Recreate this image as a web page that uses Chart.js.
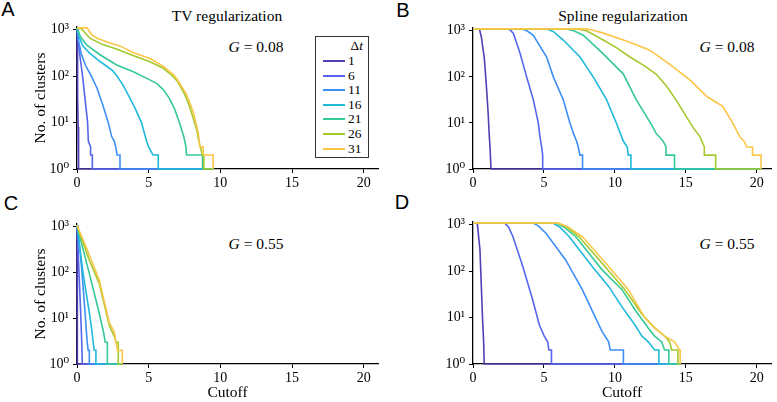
<!DOCTYPE html>
<html>
<head>
<meta charset="utf-8">
<script src="https://cdn.jsdelivr.net/npm/chart.js@4.4.1/dist/chart.umd.min.js"></script>
<style>
  body { margin: 0; background: #fff; width: 777px; height: 402px; position: relative; overflow: hidden;
         font-family: "Liberation Serif", "DejaVu Serif", serif; color: #000; }
  .panel { position: absolute; }
  .txt { position: absolute; transform: translate(-50%, -50%); white-space: nowrap; }
  .letter { position: absolute; transform: translate(-50%, -50%); font-family: "Liberation Sans", Arial, sans-serif; font-size: 20px; }
  .ttl { font-size: 15.5px; }
  .glab { font-size: 15.5px; }
  #legend { position: absolute; left: 315px; top: 36px; width: 52px; height: 120px; border: 1.6px solid #333; background: #fff; }
  #legend .row { position: absolute; left: 0; width: 52px; height: 14px; font-size: 13.5px; }
  #legend .sw { position: absolute; left: 7px; top: 6px; width: 22px; height: 2px; }
  #legend .lb { position: absolute; left: 32px; top: -1px; line-height: 15px; }
</style>
</head>
<body>

<div class="letter" style="left:8px;top:9px">A</div>
<div class="letter" style="left:403px;top:10px">B</div>
<div class="letter" style="left:11px;top:203px">C</div>
<div class="letter" style="left:402px;top:202px">D</div>

<div class="txt ttl" style="left:227px;top:16px">TV regularization</div>
<div class="txt ttl" style="left:623px;top:16px">Spline regularization</div>

<div class="txt glab" style="left:256px;top:47px"><i>G</i> = 0.08</div>
<div class="txt glab" style="left:727px;top:47px"><i>G</i> = 0.08</div>
<div class="txt glab" style="left:256px;top:244px"><i>G</i> = 0.55</div>
<div class="txt glab" style="left:727px;top:244px"><i>G</i> = 0.55</div>

<div class="panel" style="left:0;top:0"><canvas id="chartA" width="390" height="200"></canvas></div>
<div class="panel" style="left:390px;top:0"><canvas id="chartB" width="387" height="200"></canvas></div>
<div class="panel" style="left:0;top:200px"><canvas id="chartC" width="390" height="202"></canvas></div>
<div class="panel" style="left:390px;top:200px"><canvas id="chartD" width="387" height="202"></canvas></div>

<div id="legend"></div>

<script>
// Δt values (legend) and colors
const dtLabels = ['1', '6', '11', '16', '21', '26', '31'];
const seriesColors = ['#5240b5', '#5566ec', '#3d8ff5', '#1fbadb', '#35c996', '#a3c92c', '#fbc648'];

const xTicks = [0, 5, 10, 15, 20];
const yTicks = [1, 10, 100, 1000];
const yTickLabels = ['10\u2070', '10\u00b9', '10\u00b2', '10\u00b3'];

// A: TV regularization, G = 0.08  -> [cutoff, no. of clusters]
const tvLow1  = [[0,1100],[0.02,700],[0.04,200],[0.06,40],[0.08,8],[0.1,2],[0.12,1],[9.5,1]];
const tvLow6  = [[0,1100],[0.08,600],[0.2,280],[0.39,100],[0.55,35],[0.74,10],[0.79,4],[0.95,3],[0.95,2],[1.07,2],[1.07,1],[9.5,1]];
const tvLow11 = [[0,1100],[0.1,600],[0.3,300],[0.6,170],[1.0,100],[1.4,55],[1.8,24],[2.18,10],[2.42,5],[2.6,4],[2.7,3],[2.8,2],[3.0,2],[3.0,1],[9.5,1]];
const tvLow16 = [[0,1100],[0.15,700],[0.4,450],[0.9,310],[1.5,220],[2.0,170],[2.5,130],[2.8,100],[3.2,65],[3.6,38],[4.0,22],[4.5,10],[4.85,4],[5.0,3],[5.3,2],[5.67,2],[5.67,1],[9.5,1]];
const tvLow21 = [[0,1100],[0.25,700],[0.67,475],[1.6,290],[2.77,175],[3.93,125],[4.62,98],[5.55,70],[6.0,52],[6.4,35],[6.8,20],[7.1,11],[7.3,7],[7.45,5],[7.6,3],[7.64,2],[8.76,2],[8.76,1],[9.5,1]];
const tvLow26 = [[0,1100],[0.3,1050],[0.9,660],[1.8,480],[2.8,380],[3.9,280],[5.0,210],[6.0,150],[6.6,105],[7.0,78],[7.44,45],[7.8,25],[8.13,12],[8.35,7],[8.5,4],[8.6,3],[8.75,2],[8.85,2],[8.85,1],[9.5,1]];
const tvLow31 = [[0,1100],[0.7,1100],[1.0,800],[1.4,660],[2.3,520],[3.0,450],[3.93,320],[5.09,240],[6.0,165],[6.7,110],[7.0,85],[7.64,40],[8.11,17],[8.46,6],[8.57,3],[8.8,3],[8.8,2],[9.5,2],[9.5,1]];

// B: Spline regularization, G = 0.08
const spLow1  = [[0,1100],[0.45,1100],[0.6,700],[0.8,250],[0.95,60],[1.08,14],[1.15,5],[1.2,3],[1.27,1],[20.3,1]];
const spLow6  = [[0,1100],[2.37,1100],[2.6,1050],[2.84,890],[3.31,330],[3.78,100],[4.25,32],[4.6,10],[4.72,5],[4.84,3],[4.91,2],[4.91,1],[20.3,1]];
const spLow11 = [[0,1100],[3.43,1100],[3.8,1000],[4.25,800],[5.19,270],[5.66,100],[6.36,32],[6.83,10],[7.07,6],[7.3,4],[7.42,3],[7.53,2],[7.72,2],[7.72,1],[20.3,1]];
const spLow16 = [[0,1100],[5.19,1100],[5.7,950],[6.36,630],[7.54,270],[8.47,100],[9.41,32],[10.1,10],[10.6,4],[10.87,3],[10.94,2],[11.13,2],[11.13,1],[20.3,1]];
const spLow21 = [[0,1100],[6.6,1100],[7.1,1000],[7.77,800],[9.18,316],[10.6,115],[11.5,32],[12.5,10],[12.9,6],[13.4,4],[13.6,3],[13.6,2],[14.2,2],[14.2,1],[20.3,1]];
const spLow26 = [[0,1100],[7.3,1100],[8.0,1000],[9.18,630],[10.1,430],[11.06,270],[12.0,180],[12.9,115],[13.6,65],[14.3,32],[15.5,8],[16.0,5],[16.3,3],[16.3,2],[17.1,2],[17.1,1],[20.3,1]];
const spLow31 = [[0,1100],[8.0,1100],[8.6,1000],[9.18,890],[10.6,630],[11.5,500],[12.46,380],[13.3,250],[14.1,165],[15.3,85],[16.5,37],[17.6,23],[18.3,10],[18.8,5],[19.1,4],[19.3,3],[19.7,3],[19.7,2],[20.3,2],[20.3,1]];

// C: TV regularization, G = 0.55
const tvHigh1  = [[0,1100],[0.01,400],[0.02,60],[0.03,8],[0.04,1],[3.16,1]];
const tvHigh6  = [[0,1100],[0.06,400],[0.13,120],[0.2,35],[0.27,10],[0.33,3],[0.37,1],[3.16,1]];
const tvHigh11 = [[0,1100],[0.09,700],[0.32,130],[0.55,15],[0.71,3],[0.78,2],[0.86,2],[0.86,1],[3.16,1]];
const tvHigh16 = [[0,1100],[0.1,600],[0.43,95],[0.9,11],[1.05,5],[1.13,3],[1.2,2],[1.32,2],[1.32,1],[3.16,1]];
const tvHigh21 = [[0,1100],[0.2,600],[0.8,113],[1.5,15],[1.85,5],[1.97,3],[2.12,3],[2.12,1],[3.16,1]];
const tvHigh26 = [[0,1100],[0.2,700],[0.86,186],[1.55,58],[2.25,7],[2.6,4],[2.72,3],[2.88,3],[2.88,1],[3.16,1]];
const tvHigh31 = [[0,1100],[0.1,900],[0.63,365],[1.55,69],[2.25,8],[2.6,5],[2.72,3],[2.83,2],[3.16,2],[3.16,1]];

// D: Spline regularization, G = 0.55
const spHigh1  = [[0,1100],[0.3,1100],[0.49,290],[0.67,10],[0.75,3],[0.79,1],[14.6,1]];
const spHigh6  = [[0,1100],[2.23,1100],[2.5,900],[2.81,560],[3.51,126],[4.21,24],[4.67,7],[5.02,4],[5.26,3],[5.35,2],[5.53,2],[5.53,1],[14.6,1]];
const spHigh11 = [[0,1100],[4.21,1100],[4.6,950],[5.14,660],[6.53,175],[7.7,40],[8.63,10],[9.1,5],[9.56,3],[9.67,2],[10.6,2],[10.6,1],[14.6,1]];
const spHigh16 = [[0,1100],[5.6,1100],[6.1,900],[6.77,560],[8.4,126],[9.56,47],[10.5,17],[11.4,7],[11.9,4],[12.35,3],[12.8,2],[13.1,2],[13.1,1],[14.6,1]];
const spHigh21 = [[0,1100],[5.83,1100],[6.4,900],[7.23,560],[9.1,107],[10.5,40],[11.4,15],[12.35,6],[12.8,4],[13.3,3],[13.5,2],[13.8,2],[13.8,1],[14.6,1]];
const spHigh26 = [[0,1100],[5.95,1100],[6.6,900],[7.46,560],[9.3,126],[10.7,40],[11.9,12],[12.8,6],[13.5,4],[13.86,3],[14.0,2],[14.44,2],[14.44,1],[14.6,1]];
const spHigh31 = [[0,1100],[5.95,1100],[6.7,900],[7.7,560],[9.56,126],[10.95,40],[12.1,10],[12.8,6],[13.5,4],[14.2,3],[14.56,2],[14.6,2],[14.6,1]];

const serifFont = '"Liberation Serif", "DejaVu Serif", serif';

function makePanel(id, series, cfg) {
  const ctx = document.getElementById(id).getContext('2d');
  const datasets = series.map((pts, i) => ({
    label: dtLabels[i],
    data: pts.map(p => ({ x: p[0], y: p[1] })),
    borderColor: seriesColors[i],
    borderWidth: 1.6,
    pointRadius: 0,
    fill: false,
    tension: 0,
    clip: 3,
    order: series.length - 1 - i
  }));

  return new Chart(ctx, {
    type: 'line',
    data: { datasets: datasets },
    options: {
      responsive: false,
      animation: false,
      devicePixelRatio: 1,
      layout: { padding: { left: 0, right: cfg.padRight, top: cfg.padTop, bottom: 0 } },
      plugins: { legend: { display: false }, tooltip: { enabled: false } },
      scales: {
        x: {
          type: 'linear', min: 0, max: 21,
          afterBuildTicks: s => { s.ticks = xTicks.map(v => ({ value: v })); },
          afterFit: s => { s.height = cfg.xHeight; },
          grid: { drawOnChartArea: false, drawTicks: true, tickLength: 4, color: '#000', lineWidth: 1 },
          border: { display: true, color: '#000', width: 1.3 },
          ticks: { color: '#000', font: { family: serifFont, size: 14 }, padding: 2, maxRotation: 0, autoSkip: false,
                   callback: v => String(v) },
          title: { display: cfg.xTitle, text: 'Cutoff', color: '#000', font: { family: serifFont, size: 15.5 },
                   padding: { top: 0, bottom: 0 } }
        },
        y: {
          type: 'logarithmic', min: 1, max: 1150,
          afterBuildTicks: s => { s.ticks = yTicks.map(v => ({ value: v })); },
          afterFit: s => { s.width = cfg.yWidth; },
          grid: { drawOnChartArea: false, drawTicks: true, tickLength: 4, color: '#000', lineWidth: 1 },
          border: { display: true, color: '#000', width: 1.3 },
          ticks: { color: '#000', font: { family: serifFont, size: 14 }, padding: 4, autoSkip: false,
                   callback: v => yTickLabels[yTicks.indexOf(v)] },
          title: { display: cfg.yTitle, text: 'No. of clusters', color: '#000', font: { family: serifFont, size: 15.5 },
                   padding: { top: 32, bottom: 0 } }
        }
      }
    }
  });
}

makePanel('chartA', [tvLow1, tvLow6, tvLow11, tvLow16, tvLow21, tvLow26, tvLow31],
  { padRight: 12, padTop: 27, xHeight: 31, yWidth: 77, xTitle: false, yTitle: true });
makePanel('chartB', [spLow1, spLow6, spLow11, spLow16, spLow21, spLow26, spLow31],
  { padRight: 6, padTop: 28, xHeight: 31, yWidth: 83, xTitle: false, yTitle: false });
makePanel('chartC', [tvHigh1, tvHigh6, tvHigh11, tvHigh16, tvHigh21, tvHigh26, tvHigh31],
  { padRight: 12, padTop: 24, xHeight: 38, yWidth: 77, xTitle: true, yTitle: true });
makePanel('chartD', [spHigh1, spHigh6, spHigh11, spHigh16, spHigh21, spHigh26, spHigh31],
  { padRight: 6, padTop: 22, xHeight: 38, yWidth: 83, xTitle: true, yTitle: false });

// legend box (Δt)
const legend = document.getElementById('legend');
let html = '<div class="row" style="top:2px"><span style="position:absolute;right:5px;top:-1px;line-height:15px">\u0394<i>t</i></span></div>';
dtLabels.forEach((lab, i) => {
  const top = 17 + i * 14.6;
  html += '<div class="row" style="top:' + top + 'px"><div class="sw" style="background:' + seriesColors[i] + '"></div>' +
          '<span class="lb">' + lab + '</span></div>';
});
legend.innerHTML = html;
</script>
</body>
</html>
